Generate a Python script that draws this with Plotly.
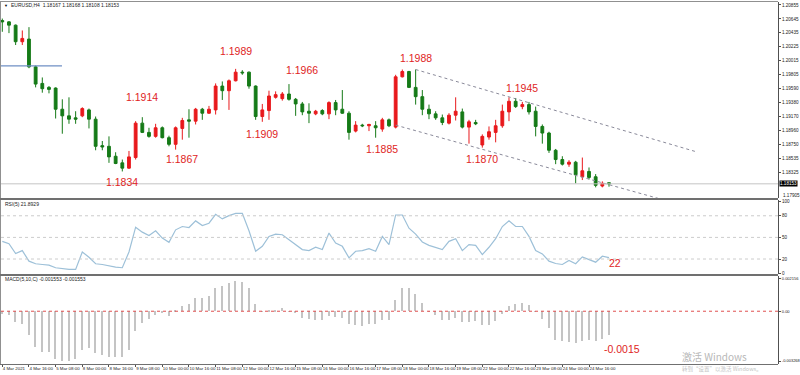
import plotly.graph_objects as go

# ---------------- data ----------------
opens = [1.2062, 1.2060, 1.2055, 1.2030, 1.2034, 1.1992, 1.1967, 1.1961, 1.1960, 1.1928,
         1.1918, 1.1915, 1.1918, 1.1927, 1.1913, 1.1873, 1.1872, 1.1857, 1.1847, 1.1839,
         1.1855, 1.1907, 1.1893, 1.1887, 1.1900, 1.1885, 1.1875, 1.1899, 1.1912, 1.1910,
         1.1928, 1.1922, 1.1927, 1.1963, 1.1956, 1.1971, 1.1984, 1.1984, 1.1963, 1.1917,
         1.1926, 1.1946, 1.1944, 1.1951, 1.1943, 1.1936, 1.1925, 1.1921, 1.1926, 1.1921,
         1.1938, 1.1928, 1.1922, 1.1895, 1.1904, 1.1903, 1.1903, 1.1898, 1.1912, 1.1901,
         1.1977, 1.1985, 1.1961, 1.1947, 1.1928, 1.1921, 1.1915, 1.1907, 1.1919, 1.1924,
         1.1901, 1.1908, 1.1874, 1.1886, 1.1893, 1.1903, 1.1924, 1.1940, 1.1932, 1.1935,
         1.1925, 1.1902, 1.1892, 1.1866, 1.1852, 1.1845, 1.1848, 1.1826, 1.1834, 1.1826,
         1.1812, 1.1817]
highs = [1.2065, 1.2061, 1.2056, 1.2047, 1.2052, 1.1994, 1.1976, 1.1963, 1.1961, 1.1943,
         1.1946, 1.1925, 1.1931, 1.1929, 1.1917, 1.1880, 1.1887, 1.1863, 1.1852, 1.1865,
         1.1910, 1.1916, 1.1900, 1.1906, 1.1902, 1.1888, 1.1902, 1.1915, 1.1928, 1.1930,
         1.1930, 1.1933, 1.1967, 1.1970, 1.1973, 1.1989, 1.1987, 1.1985, 1.1964, 1.1936,
         1.1956, 1.1955, 1.1954, 1.1966, 1.1945, 1.1939, 1.1937, 1.1927, 1.1928, 1.1940,
         1.1942, 1.1957, 1.1925, 1.1910, 1.1906, 1.1906, 1.1910, 1.1915, 1.1914, 1.1980,
         1.1988, 1.1986, 1.1988, 1.1957, 1.1935, 1.1925, 1.1920, 1.1922, 1.1946, 1.1929,
         1.1912, 1.1912, 1.1890, 1.1902, 1.1912, 1.1935, 1.1946, 1.1945, 1.1939, 1.1939,
         1.1932, 1.1905, 1.1894, 1.1868, 1.1857, 1.1851, 1.1850, 1.1855, 1.1840, 1.1830,
         1.1819, 1.1817]
lows = [1.2045, 1.2043, 1.2025, 1.2025, 1.1990, 1.1961, 1.1953, 1.1952, 1.1914, 1.1891,
        1.1906, 1.1906, 1.1916, 1.1899, 1.1866, 1.1866, 1.1847, 1.1845, 1.1834, 1.1838,
        1.1852, 1.1892, 1.1885, 1.1885, 1.1884, 1.1872, 1.1867, 1.1882, 1.1885, 1.1905,
        1.1912, 1.1921, 1.1920, 1.1942, 1.1927, 1.1970, 1.1980, 1.1959, 1.1912, 1.1909,
        1.1912, 1.1944, 1.1941, 1.1941, 1.1918, 1.1919, 1.1907, 1.1919, 1.1919, 1.1913,
        1.1919, 1.1921, 1.1882, 1.1893, 1.1901, 1.1895, 1.1885, 1.1894, 1.1901, 1.1899,
        1.1976, 1.1960, 1.1935, 1.1919, 1.1913, 1.1912, 1.1904, 1.1905, 1.1911, 1.1899,
        1.1876, 1.1904, 1.1870, 1.1882, 1.1878, 1.1900, 1.1910, 1.1930, 1.1928, 1.1920,
        1.1887, 1.1876, 1.1862, 1.1845, 1.1843, 1.1841, 1.1816, 1.1821, 1.1822, 1.1810,
        1.1810, 1.1811]
closes = [1.2060, 1.2055, 1.2030, 1.2035, 1.1992, 1.1966, 1.1959, 1.1958, 1.1928, 1.1918,
          1.1913, 1.1913, 1.1929, 1.1913, 1.1872, 1.1871, 1.1856, 1.1846, 1.1839, 1.1856,
          1.1907, 1.1893, 1.1887, 1.1900, 1.1885, 1.1875, 1.1900, 1.1911, 1.1910, 1.1928,
          1.1922, 1.1928, 1.1963, 1.1956, 1.1971, 1.1984, 1.1983, 1.1963, 1.1917, 1.1927,
          1.1948, 1.1950, 1.1951, 1.1943, 1.1936, 1.1924, 1.1922, 1.1925, 1.1921, 1.1938,
          1.1927, 1.1922, 1.1893, 1.1904, 1.1903, 1.1905, 1.1900, 1.1912, 1.1903, 1.1977,
          1.1985, 1.1961, 1.1947, 1.1928, 1.1921, 1.1915, 1.1908, 1.1919, 1.1925, 1.1901,
          1.1909, 1.1906, 1.1887, 1.1894, 1.1903, 1.1925, 1.1940, 1.1932, 1.1935, 1.1924,
          1.1902, 1.1892, 1.1866, 1.1852, 1.1845, 1.1848, 1.1829, 1.1835, 1.1825, 1.1813,
          1.1816, 1.18153]

rsi_values = [44.5, 41.3, 27.6, 31.7, 17.0, 13.4, 12.4, 11.5, 7.9, 6.5,
              5.6, 5.6, 29.8, 22.5, 13.4, 12.4, 10.1, 8.8, 7.9, 29.8,
              64.2, 57.3, 52.7, 59.2, 49.1, 43.1, 60.5, 65.1, 63.7, 72.9,
              66.5, 69.7, 82.1, 75.7, 80.2, 83.4, 83.4, 59.2, 30.8, 37.6,
              51.4, 54.6, 53.7, 46.8, 40.8, 33.1, 31.7, 36.3, 33.1, 56.0,
              42.2, 37.6, 21.6, 30.8, 31.7, 34.4, 30.8, 51.4, 39.9, 81.1,
              81.1, 62.8, 54.6, 43.6, 39.0, 36.3, 33.1, 44.5, 48.2, 31.7,
              39.9, 39.0, 26.2, 36.3, 48.2, 65.1, 72.9, 65.1, 65.1, 51.4,
              31.7, 27.1, 17.0, 13.8, 12.4, 17.9, 13.4, 23.0, 19.3, 15.6,
              23.9, 21.9]

macd_values = [-0.00015, -0.00026, -0.00070, -0.00086, -0.00158, -0.00235, -0.00268, -0.00268, -0.00312, -0.00328,
               -0.00328, -0.00312, -0.00257, -0.00240, -0.00275, -0.00290, -0.00297, -0.00297, -0.00297, -0.00253,
               -0.00130, -0.00075, -0.00048, -0.00022, -0.00011, -0.00031, 0.00011, 0.00035, 0.00046, 0.00090,
               0.00090, 0.00099, 0.00150, 0.00165, 0.00183, 0.00200, 0.00194, 0.00150, 0.00046, -0.00004,
               0.00007, 0.00011, 0.00022, -0.00004, -0.00011, -0.00042, -0.00053, -0.00059, -0.00059, -0.00031,
               -0.00037, -0.00042, -0.00081, -0.00092, -0.00097, -0.00081, -0.00081, -0.00059, -0.00055, 0.00073,
               0.00150, 0.00150, 0.00112, 0.00057, 0.00001, -0.00026, -0.00059, -0.00055, -0.00042, -0.00070,
               -0.00070, -0.00064, -0.00092, -0.00088, -0.00066, -0.00015, 0.00035, 0.00046, 0.00057, 0.00040,
               -0.00004, -0.00048, -0.00108, -0.00191, -0.00196, -0.00202, -0.00207, -0.00196, -0.00191, -0.00196,
               -0.00180, -0.00155]

time_labels = ["4 Mar 2021", "4 Mar 16:00", "5 Mar 08:00", "8 Mar 00:00", "8 Mar 16:00",
               "9 Mar 08:00", "10 Mar 00:00", "10 Mar 16:00", "11 Mar 08:00", "12 Mar 00:00",
               "12 Mar 16:00", "15 Mar 08:00", "16 Mar 00:00", "16 Mar 16:00", "17 Mar 08:00",
               "18 Mar 00:00", "18 Mar 16:00", "19 Mar 08:00", "22 Mar 00:00", "22 Mar 16:00",
               "23 Mar 08:00", "24 Mar 00:00", "24 Mar 16:00"]
bars_per_label = 4

price_ticks = [1.20855, 1.20645, 1.20435, 1.20225, 1.20015, 1.19805, 1.19590,
               1.19380, 1.19170, 1.18960, 1.18750, 1.18535, 1.18325]
price_bottom_label = "1.17905"
current_price = 1.18153
rsi_ticks = [0, 20, 50, 80, 100]
rsi_levels = [20, 50, 80]
macd_ticks = [-0.003268, 0.0, 0.002156]
macd_tick_text = ["-0.003268", "0.00", "0.002156"]

# drawn objects (bar index, price)
blue_line_x = [-0.2, 8.95]
blue_line_y = [1.19934, 1.19934]
channel_upper_x = [62, 104]
channel_upper_y = [1.1988, 1.1864]
channel_lower_x = [59, 99.2]
channel_lower_y = [1.1904, 1.1791]

# red price notes: (text, bar index, price)
price_notes = [("1.1914", 21.0, 1.19469), ("1.1834", 17.95, 1.18181), ("1.1867", 26.95, 1.18528),
               ("1.1989", 35.0, 1.20160), ("1.1909", 38.95, 1.18906), ("1.1966", 44.95, 1.19877),
               ("1.1885", 56.95, 1.18672), ("1.1988", 62.05, 1.20047), ("1.1870", 71.95, 1.18528),
               ("1.1945", 77.95, 1.19601)]
rsi_note = ("22", 91.9, 13.8)
macd_note = ("-0.0015", 92.95, -0.00248)

header_text = "EURUSD,H4  1.18167 1.18168 1.18108 1.18153"
rsi_header = "RSI(5) 21.8929"
macd_header = "MACD(5,10,C) -0.001553 -0.001553"

# ---------------- figure ----------------
n = len(closes)
idx = list(range(n))
RED = "#e8191c"
GREEN = "#157a17"
W, H = 800, 375
ML, MR, MT, MB = 1, 22, 2, 11
PW = W - ML - MR
PH = H - MT - MB


def px_x(px):
    return (px - ML) / PW


def px_y(py):
    return (H - MB - py) / PH


xr = [-0.195, -0.195 + PW / 6.667]

fig = go.Figure()
fig.add_trace(go.Candlestick(
    x=idx, open=opens, high=highs, low=lows, close=closes,
    xaxis="x", yaxis="y", whiskerwidth=0,
    increasing=dict(line=dict(color=RED, width=1), fillcolor=RED),
    decreasing=dict(line=dict(color=GREEN, width=1), fillcolor=GREEN),
    showlegend=False, hoverinfo="skip"))
fig.add_trace(go.Scatter(x=blue_line_x, y=blue_line_y, mode="lines", xaxis="x", yaxis="y",
                         line=dict(color="#6f8fc4", width=1.2), showlegend=False, hoverinfo="skip"))
for cx, cy in [(channel_upper_x, channel_upper_y), (channel_lower_x, channel_lower_y)]:
    fig.add_trace(go.Scatter(x=cx, y=cy, mode="lines", xaxis="x", yaxis="y",
                             line=dict(color="#8a8a9a", width=1, dash="dot"),
                             showlegend=False, hoverinfo="skip"))
fig.add_trace(go.Scatter(x=idx, y=rsi_values, mode="lines", xaxis="x2", yaxis="y2",
                         line=dict(color="#9dc0d8", width=1.2), showlegend=False, hoverinfo="skip"))
fig.add_trace(go.Bar(x=idx, y=macd_values, xaxis="x3", yaxis="y3", width=0.2,
                     marker=dict(color="#c4c4c4", line=dict(width=0)),
                     showlegend=False, hoverinfo="skip"))

small = dict(family="Liberation Sans, Arial", size=5, color="#222222")
ytick_font = dict(family="Liberation Sans, Arial", size=4.6, color="#222222")
xsmall = dict(family="Liberation Sans, Arial", size=4.4, color="#222222")
common_x = dict(range=xr, showgrid=False, zeroline=False, showline=False, fixedrange=True, automargin=False)
common_y = dict(side="right", showgrid=False, zeroline=False, showline=True, linecolor="#505050",
                linewidth=1, ticks="outside", ticklen=2, tickcolor="#505050", tickfont=ytick_font,
                automargin=False)

price_dom = [px_y(198), 1.0]
rsi_dom = [px_y(274), px_y(200)]
macd_dom = [0.0, px_y(276)]

fig.update_layout(
    width=W, height=H, margin=dict(l=ML, r=MR, t=MT, b=MB, autoexpand=False),
    paper_bgcolor="white", plot_bgcolor="white", showlegend=False,
    boxgap=0.4, bargap=0,
    xaxis=dict(**common_x, anchor="y", showticklabels=False, rangeslider=dict(visible=False)),
    xaxis2=dict(**common_x, anchor="y2", showticklabels=False),
    xaxis3=dict(**common_x, anchor="y3", tickmode="array",
                tickvals=[k * bars_per_label for k in range(len(time_labels))],
                ticktext=time_labels, ticks="outside", ticklen=2, tickcolor="#505050",
                tickangle=0, ticklabelposition="outside right", tickfont=xsmall),
    yaxis=dict(**common_y, domain=price_dom, range=[1.17939, 1.20900], anchor="x",
               tickmode="array", tickvals=price_ticks, ticktext=["%.5f" % v for v in price_ticks]),
    yaxis2=dict(**common_y, domain=rsi_dom, range=[-0.8, 101.9], anchor="x2",
                tickmode="array", tickvals=rsi_ticks, ticktext=[str(v) for v in rsi_ticks]),
    yaxis3=dict(**{**common_y, "tickfont": dict(family="Liberation Sans, Arial", size=4.0, color="#222222")},
                domain=macd_dom, range=[-0.00346, 0.00231], anchor="x3",
                tickmode="array", tickvals=macd_ticks, ticktext=macd_tick_text),
)

shapes = []
shapes.append(dict(type="line", xref="paper", yref="y", x0=0, x1=1, y0=current_price, y1=current_price,
                   line=dict(color="#c4c4c4", width=1)))
for lv in rsi_levels:
    shapes.append(dict(type="line", xref="paper", yref="y2", x0=0, x1=1, y0=lv, y1=lv,
                       line=dict(color="#cccccc", width=1, dash="dot")))
shapes.append(dict(type="line", xref="paper", yref="y3", x0=0, x1=1, y0=0, y1=0,
                   line=dict(color="#e05050", width=1, dash="dot")))
# window frame
shapes.append(dict(type="line", xref="paper", yref="paper", x0=px_x(0), x1=1, y0=px_y(1.5), y1=px_y(1.5),
                   line=dict(color="#909090", width=1)))
shapes.append(dict(type="line", xref="paper", yref="paper", x0=px_x(0.5), x1=px_x(0.5), y0=px_y(364), y1=px_y(1.5),
                   line=dict(color="#909090", width=1)))
for sep in [199, 275]:
    shapes.append(dict(type="line", xref="paper", yref="paper", x0=px_x(0), x1=1, y0=px_y(sep), y1=px_y(sep),
                       line=dict(color="#707070", width=2)))
shapes.append(dict(type="line", xref="paper", yref="paper", x0=px_x(0), x1=1, y0=px_y(364.5), y1=px_y(364.5),
                   line=dict(color="#707070", width=1)))
fig.update_layout(shapes=shapes)

ann = []
note_font = dict(family="Liberation Sans, Arial", size=10.5, color="#e02424")
for t, xi, yv in price_notes:
    ann.append(dict(text=t, x=xi, y=yv, xref="x", yref="y", showarrow=False, font=note_font))
ann.append(dict(text=rsi_note[0], x=rsi_note[1], y=rsi_note[2], xref="x2", yref="y2", showarrow=False, font=note_font))
ann.append(dict(text=macd_note[0], x=macd_note[1], y=macd_note[2], xref="x3", yref="y3", showarrow=False, font=note_font))
ann.append(dict(text=header_text, x=px_x(9), y=px_y(5), xref="paper", yref="paper", xanchor="left",
                yanchor="middle", showarrow=False, font=small))
ann.append(dict(text="▼", x=px_x(2), y=px_y(5), xref="paper", yref="paper", xanchor="left",
                yanchor="middle", showarrow=False, font=dict(size=4, color="black")))
ann.append(dict(text=rsi_header, x=px_x(3), y=px_y(204), xref="paper", yref="paper", xanchor="left",
                yanchor="middle", showarrow=False, font=small))
ann.append(dict(text=macd_header, x=px_x(3), y=px_y(279), xref="paper", yref="paper", xanchor="left",
                yanchor="middle", showarrow=False, font=small))
ann.append(dict(text="%.5f" % current_price, x=1, y=current_price, xref="paper", yref="y", xanchor="left",
                yanchor="middle", xshift=1, showarrow=False, bgcolor="black",
                font=dict(family="Liberation Sans, Arial", size=4.6, color="white"), borderpad=0))
ann.append(dict(text=price_bottom_label, x=1, y=px_y(195), xref="paper", yref="paper", xanchor="left",
                yanchor="middle", xshift=3, showarrow=False, font=ytick_font))
ann.append(dict(text="激活 Windows", x=px_x(680), y=px_y(356), xref="paper", yref="paper", xanchor="left",
                yanchor="middle", showarrow=False,
                font=dict(family="Noto Sans CJK SC", size=10, color="#b8b8b8")))
ann.append(dict(text="转到“设置”以激活 Windows。", x=px_x(680), y=px_y(368.5), xref="paper", yref="paper",
                xanchor="left", yanchor="middle", showarrow=False,
                font=dict(family="Noto Sans CJK SC", size=5.5, color="#c4c4c4")))
fig.update_layout(annotations=ann)

fig.write_html("out.html", config={"displayModeBar": False},
               post_script="document.body.style.margin='0';document.body.style.overflow='hidden';")
